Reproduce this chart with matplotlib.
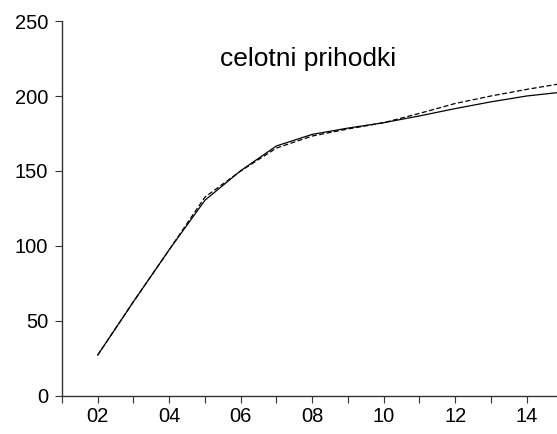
import matplotlib
matplotlib.use("Agg")
import matplotlib.pyplot as plt
from matplotlib.ticker import FixedLocator, FuncFormatter

plt.rcParams['font.family'] = ['Liberation Sans', 'DejaVu Sans']

# annual data, 2002-2015
years = [2002, 2003, 2004, 2005, 2006, 2007, 2008, 2009, 2010, 2011, 2012, 2013, 2014, 2015]
actual = [27.3, 62.9, 97.5, 130.5, 150.2, 166.7, 174.4, 178.6, 182.2, 186.7, 191.6, 196.1, 200.0, 202.6]
fitted = [27.3, 62.9, 97.5, 132.6, 150.0, 165.3, 173.3, 178.0, 182.2, 188.4, 195.0, 200.0, 204.4, 208.4]

title = "celotni prihodki"
y_ticks = [0, 50, 100, 150, 200, 250]
x_major = [2002, 2004, 2006, 2008, 2010, 2012, 2014]
x_minor = [2001, 2003, 2005, 2007, 2009, 2011, 2013]

fig = plt.figure(figsize=(5.57, 4.34), dpi=100)
ax = fig.add_axes([0.1113, 0.0876, 0.8887, 0.864])

ax.plot(years, actual, color="black", lw=0.9, solid_joinstyle="round")
ax.plot(years, fitted, color="black", lw=0.9, linestyle=(0, (4, 2)))

ax.set_xlim(2001, 2014.85)
ax.set_ylim(0, 250)

ax.xaxis.set_major_locator(FixedLocator(x_major))
ax.xaxis.set_minor_locator(FixedLocator(x_minor))
ax.xaxis.set_major_formatter(FuncFormatter(lambda v, p: f"{int(v) % 100:02d}"))
ax.set_yticks(y_ticks)

for s in ["top", "right"]:
    ax.spines[s].set_visible(False)
for s in ["left", "bottom"]:
    ax.spines[s].set_color("#333333")
    ax.spines[s].set_linewidth(1.0)

ax.tick_params(axis="y", which="major", direction="out", length=5, width=0.8,
               labelsize=14.5, pad=5, color="#333333")
ax.tick_params(axis="x", which="both", direction="out", length=5, width=0.8,
               labelsize=14.5, pad=3, color="#333333")

ax.text(0.497, 0.9, title, transform=ax.transAxes, ha="center", va="center", fontsize=19)

fig.savefig("out.png", dpi=100)
